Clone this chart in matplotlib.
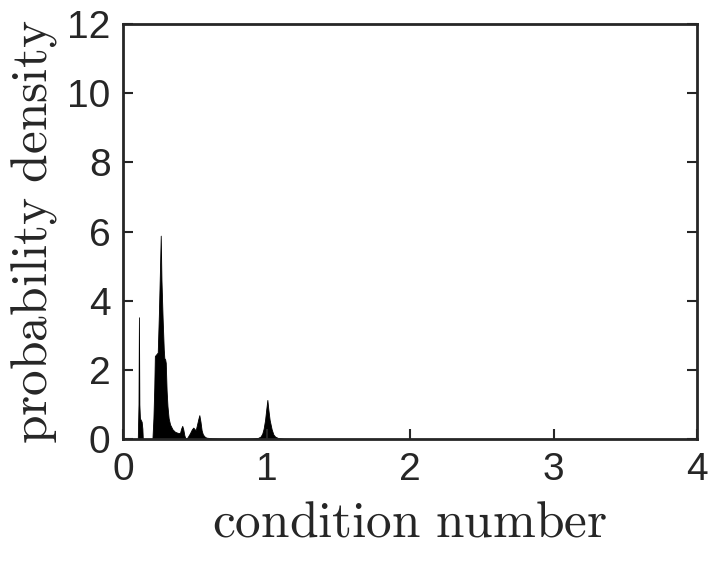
import matplotlib
matplotlib.use("Agg")
import matplotlib.pyplot as plt

# condition number grid points and probability density
cond_number = [0.000, 0.103, 0.108, 0.111, 0.114, 0.118, 0.124, 0.130, 0.135, 0.138,
               0.205, 0.212, 0.218, 0.222, 0.232, 0.242, 0.250, 0.257, 0.263, 0.268,
               0.276, 0.284, 0.288, 0.294, 0.298, 0.304, 0.310, 0.318, 0.328, 0.345,
               0.362, 0.380, 0.397, 0.405, 0.413, 0.420, 0.428, 0.437, 0.450, 0.467,
               0.480, 0.490, 0.500, 0.507, 0.515, 0.525, 0.532, 0.540, 0.548, 0.556,
               0.566, 0.580, 0.620, 0.700, 0.800, 0.900, 0.940, 0.958, 0.970, 0.980,
               0.990, 0.998, 1.006, 1.013, 1.022, 1.036, 1.048, 1.060, 1.080, 1.120,
               1.300, 4.000]
density = [0.00, 0.00, 1.00, 3.52, 1.00, 0.60, 0.55, 0.50, 0.30, 0.00,
           0.00, 0.60, 1.50, 2.40, 2.45, 2.50, 3.60, 4.80, 5.88, 4.60,
           3.50, 2.60, 2.34, 2.30, 2.20, 1.40, 0.95, 0.60, 0.42, 0.28,
           0.21, 0.18, 0.17, 0.30, 0.38, 0.28, 0.10, 0.00, 0.05, 0.17,
           0.28, 0.33, 0.28, 0.26, 0.40, 0.58, 0.69, 0.50, 0.25, 0.14,
           0.08, 0.04, 0.02, 0.01, 0.01, 0.015, 0.03, 0.07, 0.15, 0.30,
           0.55, 0.85, 1.13, 0.85, 0.55, 0.28, 0.13, 0.07, 0.03, 0.01,
           0.00, 0.00]

x_ticks = [0, 1, 2, 3, 4]
y_ticks = [0, 2, 4, 6, 8, 10, 12]

plt.rcParams['mathtext.fontset'] = 'cm'
plt.rcParams['font.family'] = ['Liberation Sans', 'DejaVu Sans']

fig = plt.figure(figsize=(7.24, 5.72), dpi=100)
ax = fig.add_axes([123/724, 1 - 439/572, 574/724, 415/572])

ax.fill_between(cond_number, density, 0, color='black', linewidth=0.6)

ax.set_xlim(0, 4)
ax.set_ylim(0, 12)
ax.set_xticks(x_ticks)
ax.set_yticks(y_ticks)
ax.set_xticklabels([str(t) for t in x_ticks])
ax.set_yticklabels([str(t) for t in y_ticks])

edge = '#262626'
for s in ax.spines.values():
    s.set_linewidth(2.0)
    s.set_color(edge)
ax.tick_params(direction='in', length=7, width=1.5, colors=edge,
               labelsize=28, pad=9, right=True, top=False)

ax.set_xlabel(r'$\mathrm{condition\ number}$', fontsize=37, color=edge, labelpad=8)
ax.set_ylabel(r'$\mathrm{probability\ density}$', fontsize=37, color=edge, labelpad=6)

fig.savefig('out.png', dpi=100)
